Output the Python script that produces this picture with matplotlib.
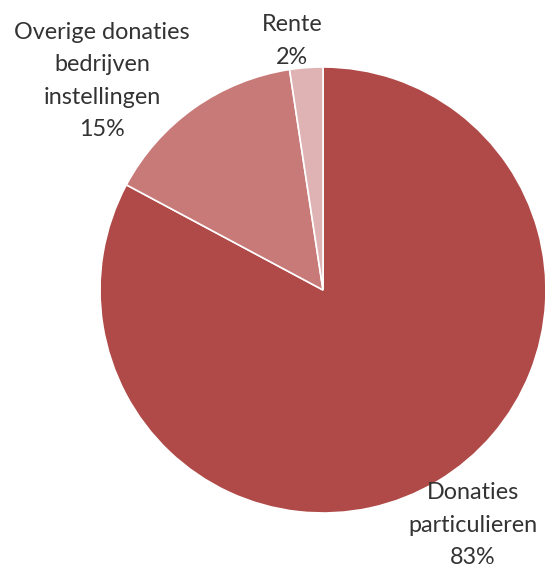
import matplotlib
matplotlib.use("Agg")
import matplotlib.pyplot as plt

# ------------------------------
# Data (shares, shown rounded)
# ------------------------------
labels = ["Donaties\nparticulieren", "Overige donaties\nbedrijven\ninstellingen", "Rente"]
values = [82.9, 14.8, 2.4]
colors = ["#b04a48", "#c87a78", "#dfb3b3"]

# label anchor points in pixel coords (x, y from bottom)
label_pos = [(473, 44), (102, 488), (292, 528)]


def main():
    W, H = 545, 569
    fig = plt.figure(figsize=(W / 100, H / 100), dpi=100)
    ax = fig.add_axes([0, 0, 1, 1])

    ax.pie(
        values,
        colors=colors,
        startangle=90,
        counterclock=False,
        center=(323, 279),
        radius=223,
        wedgeprops=dict(edgecolor="white", linewidth=1.2),
    )
    ax.set_xlim(0, W)
    ax.set_ylim(0, H)
    ax.set_aspect("auto")
    ax.axis("off")

    total = sum(values)
    for lab, v, (x, y) in zip(labels, values, label_pos):
        pct = round(100 * v / total)
        ax.text(x, y, f"{lab}\n{pct}%", ha="center", va="center",
                fontsize=16.8, family="Lato", color="#333333",
                linespacing=1.65)

    plt.savefig("out.png", dpi=100)


if __name__ == "__main__":
    main()
